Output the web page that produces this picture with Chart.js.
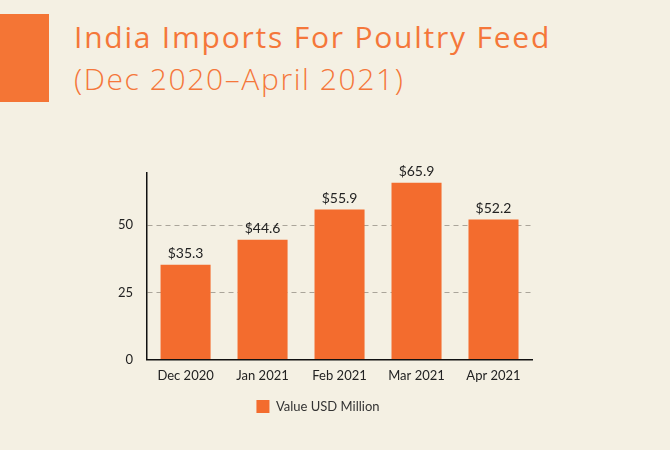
<!DOCTYPE html>
<html>
<head>
<meta charset="utf-8">
<script src="https://cdn.jsdelivr.net/npm/chart.js@4.4.0/dist/chart.umd.min.js"></script>
<style>
    body { margin: 0; background: #f4f0e3; }
    #page { position: relative; width: 670px; height: 450px; background: #f4f0e3; overflow: hidden; }
    #tag { position: absolute; left: 0; top: 14px; width: 49px; height: 88px; background: #f47535; }
    #title { position: absolute; left: 74px; top: 16px; font-family: "Open Sans", sans-serif; font-size: 30px; font-weight: 500; color: #f5773a; letter-spacing: 1.78px; white-space: nowrap; }
    #subtitle { position: absolute; left: 74px; top: 58px; font-family: "Open Sans", sans-serif; font-size: 30px; font-weight: 300; color: #f5773a; letter-spacing: 1.6px; white-space: nowrap; }
    #wrap { position: absolute; left: 0; top: 150px; width: 670px; height: 277px; }
</style>
</head>
<body>
<div id="page">
    <div id="tag"></div>
    <div id="title">India Imports For Poultry Feed</div>
    <div id="subtitle">(Dec 2020–April 2021)</div>
    <div id="wrap"><canvas id="importChart"></canvas></div>
</div>
<script>
"use strict";

// chart data
const months = ['Dec 2020', 'Jan 2021', 'Feb 2021', 'Mar 2021', 'Apr 2021'];
const valuesUsd = [35.3, 44.6, 55.9, 65.9, 52.2];
const yTicks = [0, 25, 50];
const seriesName = 'Value USD Million';

// draws "$xx.x" above each bar
const barLabels = {
    id: 'barLabels',
    afterDatasetsDraw(chart) {
        const ctx = chart.ctx;
        const meta = chart.getDatasetMeta(0);
        ctx.save();
        ctx.font = '14px Lato';
        ctx.fillStyle = '#222';
        ctx.textAlign = 'center';
        ctx.textBaseline = 'bottom';
        meta.data.forEach(function(bar, i) {
            ctx.fillText('$' + valuesUsd[i].toFixed(1), bar.x, bar.y - 4);
        });
        ctx.restore();
    }
};

const ctx = document.getElementById('importChart').getContext('2d');
const importChart = new Chart(ctx, {
    type: 'bar',
    data: {
        labels: months,
        datasets: [{
            label: seriesName,
            data: valuesUsd,
            backgroundColor: '#f36c2e',
            barPercentage: 0.65,
            categoryPercentage: 1
        }]
    },
    options: {
        responsive: true,
        maintainAspectRatio: false,
        animation: false,
        layout: {
            padding: { left: 104, right: 138, top: 23, bottom: 4 }
        },
        plugins: {
            legend: {
                position: 'bottom',
                labels: {
                    boxWidth: 13,
                    boxHeight: 13,
                    color: '#333',
                    font: { family: 'Lato', size: 13 },
                    padding: 7
                }
            },
            tooltip: { enabled: false }
        },
        scales: {
            x: {
                grid: { display: false, drawTicks: false },
                border: { color: '#111', width: 1.5 },
                ticks: {
                    color: '#222',
                    font: { family: 'Lato', size: 13 },
                    padding: 9
                }
            },
            y: {
                min: 0,
                max: 69.5,
                afterBuildTicks: function(axis) {
                    axis.ticks = yTicks.map(function(v) { return { value: v }; });
                },
                grid: {
                    color: function(c) { return c.tick.value === 0 ? 'rgba(0,0,0,0)' : '#aaa59a'; },
                    drawTicks: false
                },
                border: { color: '#111', width: 1.5, dash: [5, 4], dashOffset: 0 },
                ticks: {
                    color: '#222',
                    font: { family: 'Lato', size: 13 },
                    padding: 14
                }
            }
        }
    },
    plugins: [barLabels]
});
</script>
</body>
</html>
